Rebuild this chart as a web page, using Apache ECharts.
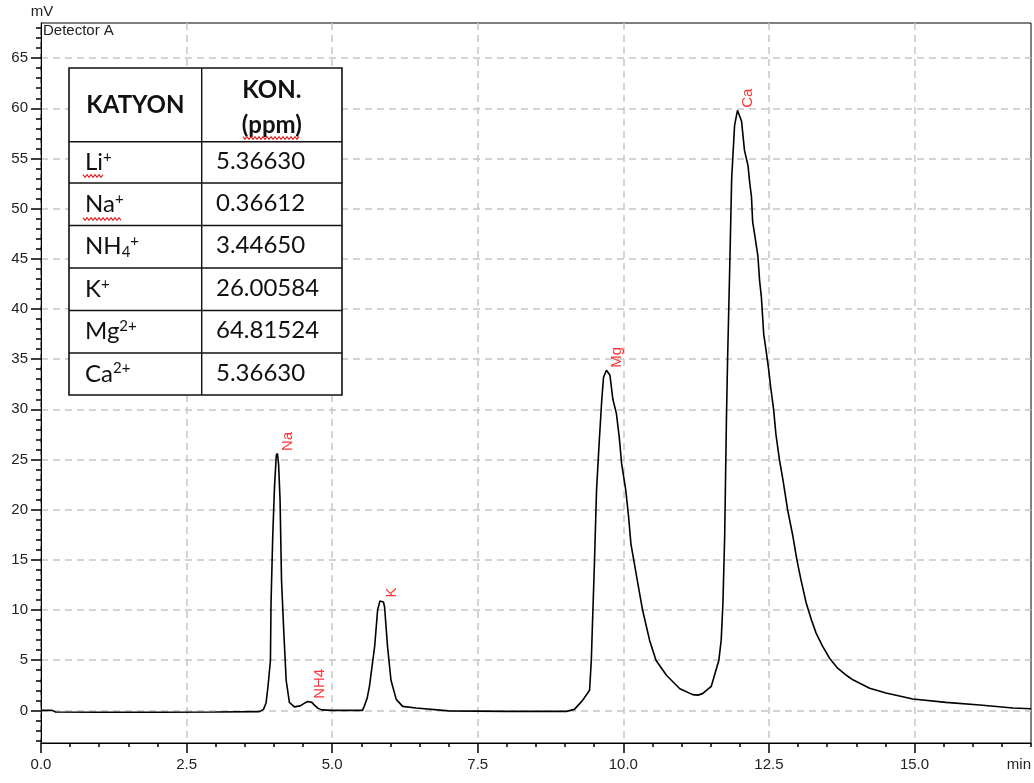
<!DOCTYPE html>
<html><head><meta charset="utf-8">
<script src="https://cdn.jsdelivr.net/npm/echarts@6/dist/echarts.min.js"></script>
<style>html,body{margin:0;padding:0;background:#fff}#c{width:1034px;height:783px}</style>
</head><body><div id="c"></div>
<script>
// ---- data ----
const times = [
  0, 0.19, 0.25, 1.0, 2.0, 3.0, 3.75,
  3.82, 3.865, 3.9, 3.94, 3.95, 3.98, 4.01, 4.04, 4.06, 4.08, 4.105, 4.13, 4.17, 4.21, 4.265, 4.35, 4.38, 4.45, 4.52, 4.58, 4.61, 4.65, 4.70, 4.76, 4.82, 5.0, 5.52,
  5.55, 5.6, 5.64, 5.73, 5.78, 5.82, 5.85, 5.88, 5.90, 5.95, 6.01, 6.10, 6.21, 6.44, 7.0, 8.0, 9.02,
  9.16, 9.30, 9.42, 9.45, 9.47, 9.50, 9.54, 9.59, 9.63, 9.66, 9.71, 9.77, 9.82, 9.88, 9.93, 9.97, 10.04, 10.09, 10.13, 10.19,
  10.25, 10.33, 10.45, 10.56, 10.74, 10.97, 11.19, 11.28, 11.36, 11.51, 11.56, 11.64, 11.68, 11.71, 11.74, 11.77, 11.79, 11.83, 11.86, 11.91,
  11.96, 12.03, 12.08, 12.14, 12.17, 12.20, 12.22, 12.26, 12.31, 12.34, 12.37, 12.41, 12.45, 12.49, 12.53, 12.58, 12.62, 12.68, 12.74, 12.82,
  12.91, 12.98, 13.05, 13.14, 13.23, 13.31, 13.42, 13.54, 13.68, 13.83, 13.94, 14.23, 14.51, 14.97, 15.54, 16.12, 16.69, 17.0
];
const signal = [
  0, 0, -0.16, -0.18, -0.18, -0.16, -0.12,
  0.1, 0.74, 2.5, 5, 10.7, 17.5, 22.3, 25.4, 25.6, 24.5, 21, 13, 7.7, 3, 0.8, 0.35, 0.24, 0.45, 0.7, 0.88, 0.9, 0.8, 0.5, 0.2, 0.05, 0, 0,
  0.4, 1.2, 2.4, 6.4, 10, 10.9, 11, 10.8, 10.3, 6.4, 3, 1.1, 0.4, 0.24, -0.05, -0.1, -0.1,
  0.1, 1.0, 2, 5, 8.7, 14, 22, 27.2, 31, 33.2, 33.9, 33.4, 31, 29.6, 27.2, 24.6, 22, 19.3, 16.6, 14.6,
  12.6, 10, 7, 5, 3.5, 2.16, 1.57, 1.52, 1.67, 2.4, 3.4, 5, 7, 10.7, 17.4, 29, 35, 45, 53, 58.3,
  59.8, 58.7, 55.8, 54.3, 52.6, 51.2, 48.7, 47.2, 45.3, 42.8, 41.2, 37.5, 35.9, 34.2, 32.2, 30, 27.5, 25, 23, 20,
  17.4, 15, 13, 10.7, 9, 7.7, 6.4, 5.2, 4.2, 3.5, 3.05, 2.2, 1.73, 1.13, 0.8, 0.53, 0.24, 0.17
];
const peakNames = ['Na', 'NH4', 'K', 'Mg', 'Ca'];
const peakTimes = [4.06, 4.61, 5.85, 9.71, 11.96];
const peakHeights = [25.6, 0.9, 11.0, 33.9, 59.8];

const xTickValues = [0, 2.5, 5, 7.5, 10, 12.5, 15];
const yTickValues = [0, 5, 10, 15, 20, 25, 30, 35, 40, 45, 50, 55, 60, 65];

const tableHeader = ['KATYON', 'KON.\n(ppm)'];
const tableIons = ['Li{sup|+}', 'Na{sup|+}', 'NH{sub|4}{sup|+}', 'K{sup|+}', 'Mg{sup|2+}', 'Ca{sup|2+}'];
const tableConc = ['5.36630', '0.36612', '3.44650', '26.00584', '64.81524', '5.36630'];

// ---- minor tick positions ----
const xMinor = [];
for (let i = 1; i <= 34; i++) { const v = i * 0.5; if (Math.abs(v / 2.5 - Math.round(v / 2.5)) > 1e-9 || v > 15) xMinor.push(v); }
const yMinor = [];
for (let v = -3; v <= 68; v++) { if (!(v % 5 === 0 && v >= 0 && v <= 65)) yMinor.push(v); }

const AX_FONT = 'Liberation Sans, Arial, sans-serif';
const LBL = '#222';
const XMIN = 0, XMAX = 17, YMIN = -3.25, YMAX = 68.5;

// ---- table graphic ----
const T = { x: 69, y: 68, w: 273, h: 327, col: 201.7 };
const rowLines = [141.7, 183, 225.5, 268, 310.5, 353, 395];
const g = [];
g.push({ type: 'rect', z: 100, shape: { x: T.x, y: T.y, width: T.w, height: T.h }, style: { fill: '#fff', stroke: '#111', lineWidth: 1.6 } });
g.push({ type: 'line', z: 101, shape: { x1: T.col, y1: T.y, x2: T.col, y2: T.y + T.h }, style: { stroke: '#111', lineWidth: 1.4 } });
for (let i = 0; i < rowLines.length - 1; i++) {
  g.push({ type: 'line', z: 101, shape: { x1: T.x, y1: rowLines[i], x2: T.x + T.w, y2: rowLines[i] }, style: { stroke: '#111', lineWidth: 1.4 } });
}
const TF = 'Lato, Carlito, sans-serif';
g.push({ type: 'text', z: 102, style: { text: tableHeader[0], x: (T.x + T.col) / 2, y: 105, font: 'bold 24px ' + TF, fill: '#111', align: 'center', textAlign: 'center', verticalAlign: 'middle', textVerticalAlign: 'middle' } });
g.push({ type: 'text', z: 102, style: { text: tableHeader[1], x: (T.col + T.x + T.w) / 2, y: 108, font: 'bold 24px ' + TF, lineHeight: 35, fill: '#111', align: 'center', textAlign: 'center', verticalAlign: 'middle', textVerticalAlign: 'middle' } });
const richSt = {
  sup: { fontSize: 15, fontFamily: TF, verticalAlign: 'top', lineHeight: 24 },
  sub: { fontSize: 15, fontFamily: TF, verticalAlign: 'bottom', lineHeight: 24 }
};
for (let i = 0; i < tableIons.length; i++) {
  const cy = (rowLines[i] + rowLines[i + 1]) / 2;
  g.push({ type: 'text', z: 102, style: { text: tableIons[i], x: 85, y: cy, font: '24px ' + TF, fill: '#111', lineHeight: 26, rich: richSt, align: 'left', textAlign: 'left', verticalAlign: 'middle', textVerticalAlign: 'middle' } });
  g.push({ type: 'text', z: 102, style: { text: tableConc[i], x: 216, y: cy - 1, font: '24px ' + TF, fill: '#111', align: 'left', textAlign: 'left', verticalAlign: 'middle', textVerticalAlign: 'middle' } });
}
function squiggle(x0, x1, y) {
  const pts = [];
  let up = true;
  for (let x = x0; x <= x1; x += 2) { pts.push([x, up ? y - 1.4 : y + 1.4]); up = !up; }
  return { type: 'polyline', z: 103, shape: { points: pts }, style: { stroke: '#e02020', lineWidth: 1.1, fill: null } };
}
g.push(squiggle(83, 103, 176));
g.push(squiggle(83, 122, 219));
g.push(squiggle(243, 300, 138));
// axis captions
g.push({ type: 'text', z: 50, style: { text: 'mV', x: 42, y: 12, font: '15px ' + AX_FONT, fill: LBL, align: 'center', textAlign: 'center', verticalAlign: 'middle', textVerticalAlign: 'middle' } });
g.push({ type: 'text', z: 50, style: { text: 'Detector A', x: 43, y: 31, font: '15px ' + AX_FONT, fill: LBL, align: 'left', textAlign: 'left', verticalAlign: 'middle', textVerticalAlign: 'middle' } });
g.push({ type: 'text', z: 50, style: { text: 'min', x: 1031, y: 765, font: '15px ' + AX_FONT, fill: LBL, align: 'right', textAlign: 'right', verticalAlign: 'middle', textVerticalAlign: 'middle' } });

const chart = echarts.init(document.getElementById('c'), null, { renderer: 'canvas' });
chart.setOption({
  animation: false,
  backgroundColor: '#fff',
  grid: { left: 41, right: 3, top: 23, bottom: 40, show: true, borderColor: '#000', borderWidth: 1, backgroundColor: 'transparent', containLabel: false },
  xAxis: [
    {
      type: 'value', min: XMIN, max: XMAX, position: 'bottom',
      axisLine: { onZero: false, lineStyle: { color: '#000', width: 1 } },
      axisTick: { show: true, inside: false, length: 10, customValues: xTickValues, lineStyle: { color: '#000', width: 1.5 } },
      axisLabel: { customValues: xTickValues, margin: 14, fontFamily: AX_FONT, fontSize: 15, color: LBL, formatter: v => Number(v).toFixed(1) },
      splitLine: { show: true, lineStyle: { color: '#c6c6c6', width: 1.5, type: [7, 5] } }
    },
    {
      type: 'value', min: XMIN, max: XMAX, position: 'bottom',
      axisLine: { show: false, onZero: false },
      axisTick: { show: true, inside: false, length: 4, customValues: xMinor, lineStyle: { color: '#000', width: 1.5 } },
      axisLabel: { show: false },
      splitLine: { show: false }
    }
  ],
  yAxis: [
    {
      type: 'value', min: YMIN, max: YMAX, position: 'left',
      axisLine: { show: true, onZero: false, lineStyle: { color: '#000', width: 1 } },
      axisTick: { show: true, inside: false, length: 10, customValues: yTickValues, lineStyle: { color: '#000', width: 1.5 } },
      axisLabel: { customValues: yTickValues, margin: 13, fontFamily: AX_FONT, fontSize: 15, color: LBL },
      splitLine: { show: true, lineStyle: { color: '#c6c6c6', width: 1.5, type: [7, 5] } }
    },
    {
      type: 'value', min: YMIN, max: YMAX, position: 'left',
      axisLine: { show: false, onZero: false },
      axisTick: { show: true, inside: false, length: 5, customValues: yMinor, lineStyle: { color: '#000', width: 1.5 } },
      axisLabel: { show: false },
      splitLine: { show: false }
    }
  ],
  series: [
    {
      type: 'line', xAxisIndex: 0, yAxisIndex: 0,
      data: times.map((t, i) => [t, signal[i]]),
      showSymbol: false, symbol: 'none',
      lineStyle: { color: '#000', width: 1.6 },
      z: 5
    },
    {
      type: 'scatter', xAxisIndex: 0, yAxisIndex: 0,
      data: peakNames.map((n, i) => ({ name: n, value: [peakTimes[i], peakHeights[i]] })),
      symbolSize: 1, itemStyle: { color: 'rgba(0,0,0,0)' },
      label: {
        show: true, formatter: '{b}', rotate: 90, position: [11, -2],
        align: 'left', verticalAlign: 'middle',
        fontFamily: AX_FONT, fontSize: 15, color: '#ff0000'
      },
      z: 6
    }
  ],
  graphic: { elements: g }
});
</script>
</body></html>
